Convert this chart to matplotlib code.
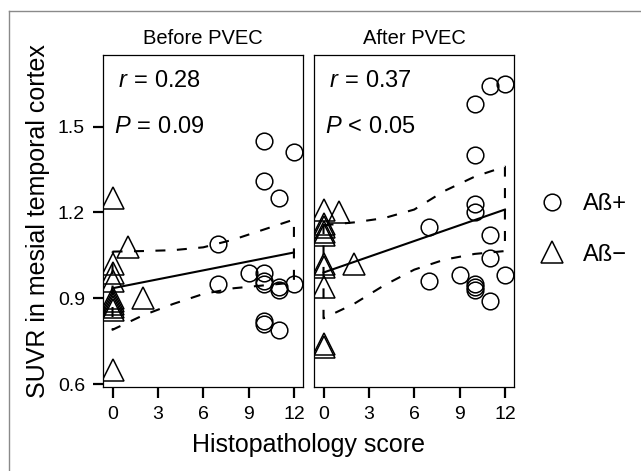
import matplotlib
matplotlib.use("Agg")
import matplotlib.pyplot as plt
from matplotlib.lines import Line2D

plt.rcParams['font.family'] = 'Liberation Sans'
plt.rcParams['mathtext.fontset'] = 'custom'
plt.rcParams['mathtext.rm'] = 'Liberation Sans'
plt.rcParams['mathtext.it'] = 'Liberation Sans:italic'

# Aß+ subjects (circles)
pos_x_before = [10, 12, 10, 11, 7, 9, 10, 10, 7, 10, 11, 11, 12, 10, 10, 11]
pos_y_before = [1.45, 1.41, 1.31, 1.25, 1.09, 0.99, 0.99, 0.96, 0.95, 0.95, 0.94, 0.93, 0.95, 0.82, 0.81, 0.79]
pos_x_after = [10, 11, 12, 10, 10, 10, 7, 11, 11, 7, 9, 12, 10, 10, 10, 11]
pos_y_after = [1.58, 1.64, 1.65, 1.40, 1.23, 1.20, 1.15, 1.12, 1.04, 0.96, 0.98, 0.98, 0.95, 0.94, 0.93, 0.89]

# Aß- subjects (triangles)
neg_x_before = [0, 1, 0, 0, 0, 2, 0, 0, 0, 0, 0, 0]
neg_y_before = [1.25, 1.08, 1.02, 0.99, 0.96, 0.90, 0.90, 0.89, 0.88, 0.87, 0.86, 0.65]
neg_x_after = [0, 1, 0, 0, 0, 0, 0, 2, 0, 0, 0, 0]
neg_y_after = [1.21, 1.20, 1.16, 1.15, 1.13, 1.12, 1.02, 1.02, 1.01, 0.94, 0.74, 0.73]

# regression line and 95% band
fit_x = [0, 12]
fit_before = [0.935, 1.06]
fit_after = [0.99, 1.21]
ci_x = [0, 2, 4, 6, 8, 10, 12]
upper_before = [1.063, 1.065, 1.068, 1.078, 1.105, 1.14, 1.175]
lower_before = [0.79, 0.84, 0.88, 0.915, 0.935, 0.945, 0.955]
upper_after = [1.155, 1.165, 1.18, 1.21, 1.275, 1.325, 1.36]
lower_after = [0.83, 0.88, 0.945, 1.0, 1.035, 1.055, 1.065]

titles = ['Before PVEC', 'After PVEC']
r_text = [r'$r\,=\,0.28$', r'$r\,=\,0.37$']
p_text = [r'$P\,=\,0.09$', r'$P\,<\,0.05$']
xticks = [0, 3, 6, 9, 12]
yticks = [0.6, 0.9, 1.2, 1.5]

W, H = 641, 471
fig = plt.figure(figsize=(W / 100, H / 100), dpi=100)

# thin grey frame of the original figure
fig.add_artist(Line2D([9 / W, 9 / W], [0, 1 - 11 / H], color='#8a8a8a', lw=1))
fig.add_artist(Line2D([9 / W, 1], [1 - 11 / H, 1 - 11 / H], color='#8a8a8a', lw=1))

ax1 = fig.add_axes([103 / W, 1 - 387 / H, 200 / W, 332 / H])
ax2 = fig.add_axes([314 / W, 1 - 387 / H, 200 / W, 332 / H])

panels = [
    (ax1, pos_x_before, pos_y_before, neg_x_before, neg_y_before, fit_before, upper_before, lower_before),
    (ax2, pos_x_after, pos_y_after, neg_x_after, neg_y_after, fit_after, upper_after, lower_after),
]

dash = (0, (4.8, 5.5))
for i, (ax, px, py, nx, ny, fit, up, lo) in enumerate(panels):
    ax.plot(px, py, 'o', ms=12, mfc='none', mec='black', mew=1.1, ls='none')
    ax.plot(nx, ny, '^', ms=15.5, mfc='none', mec='black', mew=1.1, ls='none')
    ax.plot(fit_x, fit, color='black', lw=1.5)
    band_x = ci_x + ci_x[::-1] + [ci_x[0]]
    band_y = up + lo[::-1] + [up[0]]
    ax.plot(band_x, band_y, color='black', lw=1.5, ls=dash)

    ax.set_xlim(-0.63, 12.6)
    ax.set_ylim(0.59, 1.75)
    ax.set_xticks(xticks)
    ax.set_yticks(yticks)
    ax.tick_params(axis='x', direction='out', length=8, width=1.6, pad=6, labelsize=14)
    ax.tick_params(axis='y', direction='out', length=7, width=1.6, pad=6, labelsize=14)
    for s in ax.spines.values():
        s.set_linewidth(0.9)
    ax.set_title(titles[i], fontsize=14.5, pad=8)
    ax.text(0.075, 0.9045, r_text[i], transform=ax.transAxes, fontsize=17, va='baseline')
    ax.text(0.054, 0.764, p_text[i], transform=ax.transAxes, fontsize=17, va='baseline')

ax2.tick_params(axis='y', left=False, labelleft=False)
ax1.yaxis.set_major_formatter(plt.FuncFormatter(lambda v, p: f'{v:.1f}'))

fig.text(38 / W, 1 - 221 / H, 'SUVR in mesial temporal cortex', rotation=90,
         ha='center', va='center', fontsize=18)
fig.text(308.5 / W, 1 - 445 / H, 'Histopathology score', ha='center', va='center', fontsize=18)

handles = [
    Line2D([], [], marker='o', ms=12, mfc='none', mec='black', mew=1.1, ls='none'),
    Line2D([], [], marker='^', ms=15.5, mfc='none', mec='black', mew=1.1, ls='none'),
]
fig.legend(handles, ['A\u00df+', 'A\u00df\u2212'], loc='center left',
           bbox_to_anchor=(531 / W, 1 - 229.5 / H), frameon=False, fontsize=17,
           handlelength=1.0, handletextpad=0.8, labelspacing=1.2, borderaxespad=0)

fig.savefig('out.png', dpi=100)
